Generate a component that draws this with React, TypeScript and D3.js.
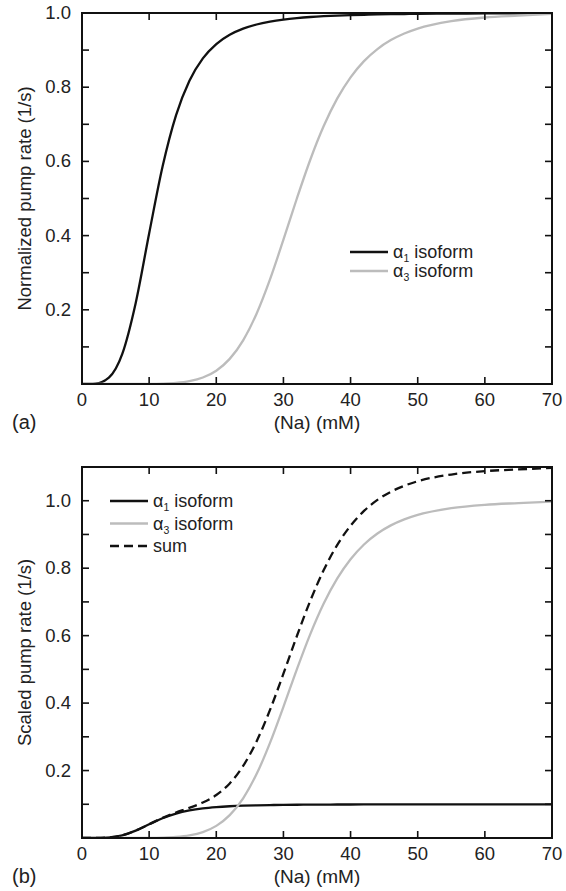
import * as d3 from "d3";
import React from "react";

// Na concentration (mM) sample points
const naValues = [0, 2, 4, 6, 8, 10, 12, 14, 16, 18, 20, 22, 24, 26, 28, 30, 32, 34, 36, 38, 40, 42, 44, 46, 48, 50, 55, 60, 65, 70];

// panel (a): normalized pump rate
const alpha1Norm = [0, 0.0011, 0.0172, 0.0813, 0.2186, 0.4058, 0.5861, 0.7241, 0.8174, 0.8776, 0.9162, 0.9412, 0.9577, 0.969, 0.9767, 0.9822, 0.9862, 0.9892, 0.9914, 0.993, 0.9943, 0.9953, 0.9961, 0.9967, 0.9972, 0.9977, 0.9984, 0.9989, 0.9992, 0.9994];
const alpha3Norm = [0, 0, 0, 0, 0.0001, 0.0003, 0.0011, 0.0031, 0.0078, 0.0175, 0.0359, 0.0677, 0.1178, 0.1895, 0.282, 0.3889, 0.5, 0.6045, 0.6952, 0.7691, 0.8266, 0.8703, 0.9028, 0.9269, 0.9447, 0.958, 0.9779, 0.9879, 0.993, 0.9975];

// panel (b): scaled pump rate
const alpha1Scaled = [0, 0.0001, 0.0017, 0.0081, 0.0219, 0.0406, 0.0586, 0.0724, 0.0817, 0.0878, 0.0916, 0.0941, 0.0958, 0.0969, 0.0977, 0.0982, 0.0986, 0.0989, 0.0991, 0.0993, 0.0994, 0.0995, 0.0996, 0.0997, 0.0997, 0.0998, 0.0998, 0.0999, 0.0999, 0.0999];
const alpha3Scaled = [0, 0, 0, 0, 0.0001, 0.0003, 0.0011, 0.0031, 0.0078, 0.0175, 0.0359, 0.0677, 0.1178, 0.1895, 0.282, 0.3889, 0.5, 0.6045, 0.6952, 0.7691, 0.8266, 0.8703, 0.9028, 0.9269, 0.9447, 0.958, 0.9779, 0.9879, 0.993, 0.9975];
const sumScaled = [0, 0.0001, 0.0017, 0.0081, 0.022, 0.0409, 0.0597, 0.0755, 0.0895, 0.1053, 0.1275, 0.1618, 0.2136, 0.2864, 0.3797, 0.4871, 0.5986, 0.7034, 0.7943, 0.8684, 0.926, 0.9698, 1.0024, 1.0266, 1.0444, 1.0578, 1.0777, 1.0878, 1.0929, 1.0974];

const xTicks = [0, 10, 20, 30, 40, 50, 60, 70];
const yLabelTicks = [0.2, 0.4, 0.6, 0.8, 1.0];

const FONT = "'Liberation Sans', Arial, sans-serif";
const BLACK = "#111";
const GRAY = "#bcbcbc";

type Series = { values: number[]; color: string; dash?: string; sub?: string; label: string };

const Panel = ({ top, yMax, yTitle, panelLabel, series, legend }: {
  top: number; yMax: number; yTitle: string; panelLabel: string; series: Series[];
  legend: { x: number; y: number; step: number };
}) => {
  const left = 82, right = 552;
  const plotH = 371;
  const x = d3.scaleLinear().domain([0, 70]).range([left, right]);
  const y = d3.scaleLinear().domain([0, yMax]).range([top + plotH, top]);
  const minorY = d3.range(1, Math.round(yMax * 10) + 1).map(d => d / 10).filter(d => d < yMax - 1e-6);
  const tickLen = 7;

  const line = (vals: number[]) =>
    d3.line<number>()
      .x((_, i) => x(naValues[i]))
      .y(d => y(d))
      .curve(d3.curveMonotoneX)(vals) || "";

  return (
    <g fontFamily={FONT}>
      <defs>
        <clipPath id={`clip-${panelLabel}`}>
          <rect x={left} y={top - 2} width={right - left} height={plotH + 2} />
        </clipPath>
      </defs>
      <g clipPath={`url(#clip-${panelLabel})`}>
        {series.map((s, i) => (
          <path key={i} d={line(s.values)} fill="none" stroke={s.color} strokeWidth={2.3}
            strokeDasharray={s.dash} />
        ))}
      </g>
      {/* frame */}
      <rect x={left} y={top} width={right - left} height={plotH} fill="none" stroke={BLACK} strokeWidth={2} />
      {xTicks.map(t => (
        <g key={t}>
          <line x1={x(t)} x2={x(t)} y1={top + plotH} y2={top + plotH - tickLen} stroke={BLACK} strokeWidth={1.6} />
          <line x1={x(t)} x2={x(t)} y1={top} y2={top + tickLen} stroke={BLACK} strokeWidth={1.6} />
          <text x={x(t)} y={top + plotH + 22} textAnchor="middle" fontSize={18.5} fill="#222">{t}</text>
        </g>
      ))}
      {minorY.map(t => (
        <g key={t}>
          <line x1={left} x2={left + tickLen} y1={y(t)} y2={y(t)} stroke={BLACK} strokeWidth={1.6} />
          <line x1={right} x2={right - tickLen} y1={y(t)} y2={y(t)} stroke={BLACK} strokeWidth={1.6} />
        </g>
      ))}
      {yLabelTicks.map(t => (
        <text key={t} x={71} y={y(t) + 6} textAnchor="end" fontSize={18.5} fill="#222">{t.toFixed(1)}</text>
      ))}
      <text transform={`translate(31, ${top + plotH / 2}) rotate(-90)`} textAnchor="middle" fontSize={18.5} fill="#222">{yTitle}</text>
      <text x={(left + right) / 2} y={top + plotH + 45} textAnchor="middle" fontSize={19} fill="#222">(Na) (mM)</text>
      <text x={12} y={top + plotH + 45} fontSize={20} fill="#222">({panelLabel})</text>
      {/* legend */}
      {series.map((s, i) => {
        const ly = legend.y + i * legend.step;
        return (
          <g key={i}>
            <line x1={legend.x} x2={legend.x + 38} y1={ly} y2={ly} stroke={s.color} strokeWidth={2.3} strokeDasharray={s.dash} />
            <text x={legend.x + 43} y={ly + 6} fontSize={18} fill="#222">
              {s.sub ? (
                <>
                  <tspan>α</tspan>
                  <tspan fontSize={10.5} dy={4}>{s.sub}</tspan>
                  <tspan dy={-4}>{" " + s.label}</tspan>
                </>
              ) : s.label}
            </text>
          </g>
        );
      })}
    </g>
  );
};

export default function App() {
  return (
    <svg width={566} height={891} style={{ position: "absolute", left: 0, top: 0, background: "#fff" }}>
      <rect width={566} height={891} fill="#fff" />
      <Panel top={13} yMax={1.0} yTitle="Normalized pump rate (1/s)" panelLabel="a"
        legend={{ x: 350, y: 252, step: 19 }}
        series={[
          { values: alpha1Norm, color: BLACK, sub: "1", label: "isoform" },
          { values: alpha3Norm, color: GRAY, sub: "3", label: "isoform" },
        ]} />
      <Panel top={467} yMax={1.1} yTitle="Scaled pump rate (1/s)" panelLabel="b"
        legend={{ x: 110, y: 501, step: 22.5 }}
        series={[
          { values: alpha1Scaled, color: BLACK, sub: "1", label: "isoform" },
          { values: alpha3Scaled, color: GRAY, sub: "3", label: "isoform" },
          { values: sumScaled, color: BLACK, dash: "9,5", label: "sum" },
        ]} />
    </svg>
  );
}
